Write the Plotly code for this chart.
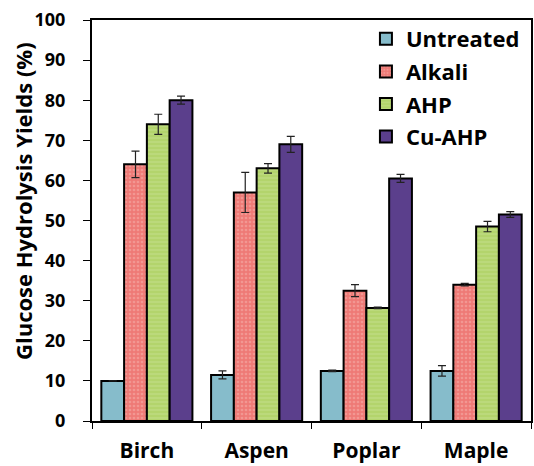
import plotly.graph_objects as go

categories = ["Birch", "Aspen", "Poplar", "Maple"]
series_names = ["Untreated", "Alkali", "AHP", "Cu-AHP"]
untreated = [10.0, 11.5, 12.5, 12.5]
untreated_err = [0.0, 1.0, 0.2, 1.3]
alkali = [64.0, 57.0, 32.5, 34.0]
alkali_err = [3.3, 5.0, 1.5, 0.3]
ahp = [74.0, 63.0, 28.2, 48.5]
ahp_err = [2.5, 1.2, 0.2, 1.3]
cu_ahp = [80.0, 69.0, 60.5, 51.5]
cu_ahp_err = [1.0, 2.0, 1.0, 0.7]
y_ticks = [0, 10, 20, 30, 40, 50, 60, 70, 80, 90, 100]
y_title = "Glucose Hydrolysis Yields (%)"

colors = ["#86bccb", "#ee7a76", "#b3d46c", "#5b3f8c"]
patterns = [
    dict(shape=""),
    dict(shape=".", fgcolor="#f6b3ae", size=4, solidity=0.35),
    dict(shape="-", fgcolor="#d4e8a6", size=4, solidity=0.25),
    dict(shape=""),
]

fig = go.Figure()
for name, vals, errs, col, pat in zip(
    series_names,
    [untreated, alkali, ahp, cu_ahp],
    [untreated_err, alkali_err, ahp_err, cu_ahp_err],
    colors,
    patterns,
):
    fig.add_trace(go.Bar(
        name=name, x=categories, y=vals, legendgroup=name,
        marker=dict(color=col, line=dict(color="black", width=2), pattern=pat),
        error_y=dict(type="data", array=errs, visible=True, color="#222222",
                     thickness=1.2, width=4),
    ))

font_family = "Open Sans, Lato, sans-serif"
fig.update_layout(
    width=534, height=466,
    margin=dict(l=92, r=3, t=20, b=45),
    barmode="group", bargap=0.17, bargroupgap=0,
    plot_bgcolor="white", paper_bgcolor="white",
    font=dict(family=font_family, color="black"),
    legend=dict(x=0.624, y=1.005, xanchor="left", yanchor="top",
                bgcolor="rgba(0,0,0,0)", traceorder="grouped",
                font=dict(size=22, family=font_family, weight="bold", color="black"),
                itemwidth=30, tracegroupgap=1),
    showlegend=True,
    annotations=[dict(
        text=y_title, textangle=-90, showarrow=False,
        xref="paper", yref="paper", x=-0.157, y=0.549,
        xanchor="center", yanchor="middle",
        font=dict(size=22, weight="bold", family=font_family, color="black"),
    )],
)
fig.update_xaxes(
    automargin=False,
    showline=True, linecolor="black", linewidth=2, mirror=True,
    ticks="outside", tickson="boundaries", ticklen=6, tickcolor="black", tickwidth=1,
    ticklabelstandoff=10,
    tickfont=dict(size=21, weight="bold", family=font_family),
    showgrid=False,
)
fig.update_yaxes(
    automargin=False,
    range=[0, 100], tickvals=y_ticks,
    showline=True, linecolor="black", linewidth=2, mirror=True,
    ticks="outside", ticklen=7, tickcolor="black", tickwidth=1,
    ticklabelstandoff=14,
    tickfont=dict(size=18, weight="bold", family=font_family),
    showgrid=False, zeroline=False,
)
fig.write_html("out.html", post_script="document.body.style.margin='0';",
               config={"displayModeBar": False})
